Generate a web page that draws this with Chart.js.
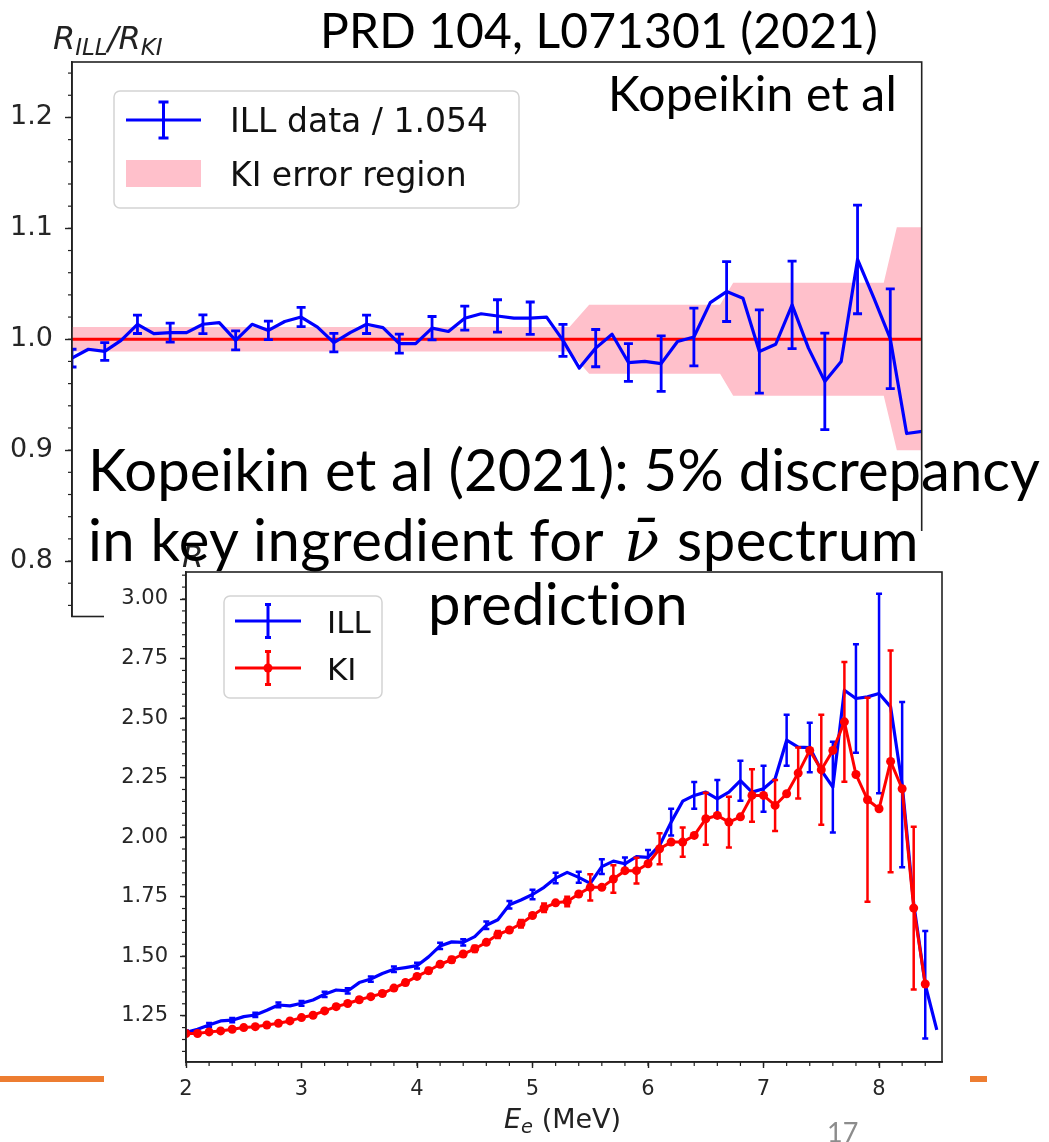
<!DOCTYPE html>
<html>
<head>
<meta charset="utf-8">
<script src="https://cdn.jsdelivr.net/npm/chart.js@4.4.1/dist/chart.umd.min.js"></script>
<style>
  body { margin: 0; background: #fff; }
  #slide { position: relative; width: 1049px; height: 1142px; overflow: hidden; background: #fff; }
  .abs { position: absolute; }
  #topBox { left: 0; top: 0; width: 1049px; height: 680px; }
  #orange { left: 0; top: 1076px; width: 987px; height: 6px; background: #ed7d31; }
  #botBox { left: 104px; top: 531px; width: 866px; height: 611px; background: #fff; }
  .ax { font-family: "DejaVu Sans"; font-style: italic; color: #222; white-space: nowrap; line-height: 1; }
  .ax sub { font-size: 0.72em; vertical-align: -0.25em; }
  .txt { font-family: Lato, sans-serif; color: #000; white-space: nowrap; line-height: 1; font-variant-ligatures: none; }
  .nu { font-family: "DejaVu Serif"; font-style: italic; }
</style>
</head>
<body>
<div id="slide">
  <div id="topBox" class="abs"><canvas id="topChart" width="1049" height="680"></canvas></div>
  <div id="orange" class="abs"></div>
  <div id="botBox" class="abs"><canvas id="botChart" width="866" height="611"></canvas></div>

  <div class="abs ax" style="left:53px; top:22px; font-size:32px;">R<sub>ILL</sub>/R<sub>KI</sub></div>
  <div class="abs ax" style="left:182px; top:541px; font-size:31px;">R</div>
  <div class="abs ax" style="left:504px; top:1105px; font-size:27px;">E<sub>e</sub> <span style="font-style:normal">(MeV)</span></div>

  <div class="abs txt fit" data-w="558" style="left:320px; top:6px; font-size:48px;">PRD 104, L071301 (2021)</div>
  <div class="abs txt fit" data-w="289" style="left:608px; top:69px; font-size:48px;">Kopeikin et al</div>
  <div class="abs txt fit" data-w="952" style="left:88px; top:440px; font-size:58px;">Kopeikin et al (2021): 5% discrepancy</div>
  <div class="abs txt fit" data-w="516" style="left:88px; top:510px; font-size:58px;">in key ingredient for</div>
  <div class="abs txt" style="left:624px; top:510px; font-size:58px;"><span class="nu">ν̄</span></div>
  <div class="abs txt fit" data-w="242" style="left:677px; top:510px; font-size:58px;">spectrum</div>
  <div class="abs txt fit" data-w="260" style="left:428px; top:574px; font-size:58px;">prediction</div>
  <div class="abs txt" style="left:827px; top:1118px; font-size:27px; color:#8c8c8c;">17</div>
</div>

<script>
// ---- top panel: ratio ILL / KI ----
const topE = [2.0, 2.125, 2.25, 2.375, 2.5, 2.625, 2.75, 2.875, 3.0, 3.125, 3.25, 3.375, 3.5, 3.625,
  3.75, 3.875, 4.0, 4.125, 4.25, 4.375, 4.5, 4.625, 4.75, 4.875, 5.0, 5.125, 5.25, 5.375, 5.5, 5.625,
  5.75, 5.875, 6.0, 6.125, 6.25, 6.375, 6.5, 6.625, 6.75, 6.875, 7.0, 7.125, 7.25, 7.375, 7.5, 7.625,
  7.75, 7.875, 8.0, 8.125, 8.25, 8.375, 8.5];
const topRatio = [0.983, 0.991, 0.989, 0.999, 1.0135, 1.005, 1.006, 1.006, 1.0135, 1.015,
  0.999, 1.0135, 1.008, 1.016, 1.020, 1.011, 0.997, 1.006, 1.0135, 1.0105,
  0.996, 0.996, 1.010, 1.007, 1.019, 1.023, 1.021, 1.019, 1.019, 1.020,
  0.999, 0.974, 0.992, 1.0045, 0.979, 0.980, 0.978, 0.998, 1.002, 1.033,
  1.043, 1.037, 0.989, 0.9955, 1.031, 0.992, 0.962, 0.980, 1.072, 1.037,
  1.0005, 0.915, 0.917];
const topErr = [0.008, null, 0.008, null, 0.0083, null, 0.0086, null, 0.0084, null,
  0.0086, null, 0.0083, null, 0.0087, null, 0.0083, null, 0.0083, null,
  0.0086, null, 0.0105, null, 0.0108, null, 0.0146, null, 0.0146, null,
  0.0144, null, 0.0168, null, 0.017, null, 0.025, null, 0.026, null,
  0.027, null, 0.0375, null, 0.0395, null, 0.0435, null, 0.049, null,
  0.045, null, null];
const bandE = [2.0, 5.8, 5.95, 6.95, 7.05, 8.2, 8.3, 8.6];
const bandLo = [0.989, 0.989, 0.969, 0.969, 0.949, 0.949, 0.900, 0.900];
const bandHi = [1.011, 1.011, 1.031, 1.031, 1.051, 1.051, 1.101, 1.101];
const kiLineE = [2.0, 8.6];
const kiLineR = [1.0, 1.0];
const topYTicks = [0.8, 0.9, 1.0, 1.1, 1.2];

// ---- bottom panel: spectra ----
const kiE = [2.0, 2.1, 2.2, 2.3, 2.4, 2.5, 2.6, 2.7, 2.8, 2.9, 3.0, 3.1, 3.2, 3.3, 3.4, 3.5, 3.6, 3.7,
  3.8, 3.9, 4.0, 4.1, 4.2, 4.3, 4.4, 4.5, 4.6, 4.7, 4.8, 4.9, 5.0, 5.1, 5.2, 5.3, 5.4, 5.5, 5.6, 5.7,
  5.8, 5.9, 6.0, 6.1, 6.2, 6.3, 6.4, 6.5, 6.6, 6.7, 6.8, 6.9, 7.0, 7.1, 7.2, 7.3, 7.4, 7.5, 7.6, 7.7,
  7.8, 7.9, 8.0, 8.1, 8.2, 8.3, 8.4];
const kiR = [1.175, 1.175, 1.182, 1.186, 1.193, 1.200, 1.204, 1.211, 1.218, 1.228,
  1.242, 1.252, 1.270, 1.288, 1.301, 1.317, 1.330, 1.343, 1.366, 1.389,
  1.415, 1.439, 1.466, 1.485, 1.509, 1.531, 1.558, 1.591, 1.610, 1.636,
  1.671, 1.703, 1.724, 1.730, 1.761, 1.789, 1.789, 1.824, 1.859, 1.859,
  1.888, 1.951, 1.979, 1.979, 2.007, 2.077, 2.091, 2.063, 2.085, 2.175,
  2.175, 2.133, 2.182, 2.269, 2.364, 2.283, 2.364, 2.484, 2.263, 2.157,
  2.119, 2.318, 2.203, 1.702, 1.383];
const kiErr = [null, 0.005, null, 0.005, null, 0.006, null, 0.006, null, 0.007,
  null, 0.007, null, 0.008, null, 0.008, null, 0.009, null, 0.010,
  null, 0.011, null, 0.012, null, 0.013, null, 0.015, null, 0.016,
  null, 0.018, null, 0.020, null, 0.055, null, 0.058, null, 0.054,
  null, 0.065, null, 0.061, null, 0.109, null, 0.107, null, 0.110,
  null, 0.107, null, 0.107, null, 0.231, null, 0.251, null, 0.428,
  null, 0.466, null, 0.342, null];
const illE = [2.0, 2.1, 2.2, 2.3, 2.4, 2.5, 2.6, 2.7, 2.8, 2.9, 3.0, 3.1, 3.2, 3.3, 3.4, 3.5, 3.6, 3.7,
  3.8, 3.9, 4.0, 4.1, 4.2, 4.3, 4.4, 4.5, 4.6, 4.7, 4.8, 4.9, 5.0, 5.1, 5.2, 5.3, 5.4, 5.5, 5.6, 5.7,
  5.8, 5.9, 6.0, 6.1, 6.2, 6.3, 6.4, 6.5, 6.6, 6.7, 6.8, 6.9, 7.0, 7.1, 7.2, 7.3, 7.4, 7.5, 7.6, 7.7,
  7.8, 7.9, 8.0, 8.1, 8.2, 8.3, 8.4, 8.5];
const illR = [1.180, 1.193, 1.211, 1.228, 1.231, 1.246, 1.253, 1.273, 1.295, 1.291,
  1.302, 1.316, 1.340, 1.358, 1.354, 1.389, 1.404, 1.427, 1.445, 1.452,
  1.460, 1.497, 1.543, 1.560, 1.558, 1.582, 1.630, 1.653, 1.716, 1.736,
  1.759, 1.789, 1.828, 1.852, 1.831, 1.806, 1.876, 1.899, 1.888, 1.918,
  1.915, 1.965, 2.063, 2.151, 2.175, 2.189, 2.161, 2.189, 2.237, 2.189,
  2.203, 2.245, 2.407, 2.378, 2.376, 2.280, 2.210, 2.617, 2.582, 2.589,
  2.603, 2.547, 2.220, 1.720, 1.380, 1.190];
const illErr = [0.008, null, 0.008, null, 0.009, null, 0.009, null, 0.010, null,
  0.010, null, 0.011, null, 0.011, null, 0.011, null, 0.012, null,
  0.012, null, 0.013, null, 0.013, null, 0.016, null, 0.016, null,
  0.020, null, 0.022, null, 0.023, null, 0.031, null, 0.026, null,
  0.031, null, 0.056, null, 0.056, null, 0.079, null, 0.084, null,
  0.097, null, 0.107, null, 0.104, null, 0.191, null, 0.228, null,
  0.419, null, 0.347, null, 0.226, null];
const botXTicks = [2, 3, 4, 5, 6, 7, 8];
const botYTicks = [1.25, 1.5, 1.75, 2.0, 2.25, 2.5, 2.75, 3.0];

const pts = (xs, ys) => xs.map((x, i) => ({ x: x, y: ys[i] }));
const AXIS = "#222";

// stretch slide text lines to the widths they have in the original slide
document.querySelectorAll(".fit").forEach((el) => {
  const w = el.getBoundingClientRect().width;
  el.style.letterSpacing = ((Number(el.dataset.w) - w) / el.textContent.length) + "px";
});

Chart.defaults.font.family = "DejaVu Sans";
Chart.defaults.color = "#262626";

// vertical error bars with caps, drawn right after their own dataset
const errorBars = {
  id: "errorBars",
  afterDatasetDraw(chart, args) {
    const ds = chart.data.datasets[args.index];
    if (!ds.errors) return;
    const ctx = chart.ctx, a = chart.chartArea, ys = chart.scales.y;
    ctx.save();
    ctx.beginPath();
    ctx.rect(a.left, a.top, a.right - a.left, a.bottom - a.top);
    ctx.clip();
    ctx.strokeStyle = ds.borderColor;
    ctx.lineWidth = ds.errWidth;
    args.meta.data.forEach((pt, i) => {
      const e = ds.errors[i];
      if (e == null) return;
      const v = ds.data[i].y;
      const y1 = ys.getPixelForValue(v - e), y2 = ys.getPixelForValue(v + e);
      ctx.beginPath();
      ctx.moveTo(pt.x, y1); ctx.lineTo(pt.x, y2);
      ctx.moveTo(pt.x - ds.errCap, y1); ctx.lineTo(pt.x + ds.errCap, y1);
      ctx.moveTo(pt.x - ds.errCap, y2); ctx.lineTo(pt.x + ds.errCap, y2);
      ctx.stroke();
    });
    ctx.restore();
  }
};

// matplotlib-like frame and minor ticks
const frameTicks = {
  id: "frameTicks",
  afterDraw(chart, args, o) {
    const ctx = chart.ctx, a = chart.chartArea;
    ctx.save();
    ctx.strokeStyle = AXIS;
    ctx.lineWidth = 1.2;
    for (const id of ["x", "y"]) {
      const step = o[id];
      const sc = chart.scales[id];
      if (!step) continue;
      const k0 = Math.ceil(sc.min / step - 1e-9), k1 = Math.floor(sc.max / step + 1e-9);
      for (let k = k0; k <= k1; k++) {
        const p = sc.getPixelForValue(k * step);
        ctx.beginPath();
        if (id === "y") { ctx.moveTo(a.left, p); ctx.lineTo(a.left - o.len, p); }
        else { ctx.moveTo(p, a.bottom); ctx.lineTo(p, a.bottom + o.len); }
        ctx.stroke();
      }
    }
    ctx.lineWidth = 1.6;
    ctx.strokeRect(a.left, a.top, a.right - a.left, a.bottom - a.top);
    ctx.restore();
  }
};

// boxed legend with errorbar / patch handles
const boxLegend = {
  id: "boxLegend",
  afterDraw(chart, args, o) {
    const ctx = chart.ctx, a = chart.chartArea;
    const x = a.left + o.dx, y = a.top + o.dy, r = 6;
    ctx.save();
    ctx.beginPath();
    ctx.roundRect(x, y, o.w, o.h, r);
    ctx.fillStyle = "rgba(255,255,255,0.85)";
    ctx.fill();
    ctx.strokeStyle = "#d3d3d3";
    ctx.lineWidth = 1.5;
    ctx.stroke();
    o.items.forEach((it, i) => {
      const cy = y + o.row0 + i * o.gap;
      const h0 = x + o.hx0, h1 = x + o.hx1, hc = (h0 + h1) / 2;
      if (it.kind === "patch") {
        ctx.fillStyle = it.color;
        ctx.fillRect(h0, cy - o.ph / 2, h1 - h0, o.ph);
      } else {
        ctx.strokeStyle = it.color;
        ctx.lineWidth = o.lw;
        ctx.beginPath();
        ctx.moveTo(h0, cy); ctx.lineTo(h1, cy);
        ctx.moveTo(hc, cy - o.eh); ctx.lineTo(hc, cy + o.eh);
        ctx.moveTo(hc - o.cap, cy - o.eh); ctx.lineTo(hc + o.cap, cy - o.eh);
        ctx.moveTo(hc - o.cap, cy + o.eh); ctx.lineTo(hc + o.cap, cy + o.eh);
        ctx.stroke();
        if (it.dot) {
          ctx.fillStyle = it.color;
          ctx.beginPath(); ctx.arc(hc, cy, it.dot, 0, Math.PI * 2); ctx.fill();
        }
      }
      ctx.fillStyle = "#111";
      ctx.font = o.font;
      ctx.textBaseline = "alphabetic";
      ctx.fillText(it.label, x + o.tx, cy + o.base);
    });
    ctx.restore();
  }
};

new Chart(document.getElementById("topChart"), {
  type: "line",
  data: {
    datasets: [{
      label: "ILL data / 1.054",
      data: pts(topE, topRatio),
      borderColor: "#0000ff",
      borderWidth: 3.2,
      pointRadius: 0,
      errors: topErr, errCap: 4.5, errWidth: 2.8,
    }, {
      label: "KI",
      data: pts(kiLineE, kiLineR),
      borderColor: "#ff0000",
      borderWidth: 3,
      pointRadius: 0,
    }, {
      label: "KI low",
      data: pts(bandE, bandLo),
      borderColor: "rgba(0,0,0,0)",
      borderWidth: 0,
      pointRadius: 0,
      fill: false,
    }, {
      label: "KI error region",
      data: pts(bandE, bandHi),
      borderColor: "rgba(0,0,0,0)",
      borderWidth: 0,
      pointRadius: 0,
      backgroundColor: "#ffc0cb",
      fill: 2,
    }],
  },
  options: {
    responsive: false,
    animation: false,
    events: [],
    layout: { padding: { left: 0, top: 62, right: 127.3, bottom: 63.5 } },
    elements: { line: { tension: 0, borderJoinStyle: "round" } },
    plugins: {
      legend: { display: false },
      tooltip: { enabled: false },
      frameTicks: { y: 0.02, len: 4 },
      boxLegend: {
        dx: 42, dy: 29, w: 405, h: 117, row0: 29, gap: 53.5,
        hx0: 12, hx1: 87, tx: 116, base: 12, lw: 3, eh: 18, cap: 5, ph: 27,
        font: "33px 'DejaVu Sans'",
        items: [
          { kind: "err", color: "#0000ff", label: "ILL data / 1.054" },
          { kind: "patch", color: "#ffc0cb", label: "KI error region" },
        ],
      },
    },
    scales: {
      x: { type: "linear", display: false, min: 2.0, max: 8.49 },
      y: {
        min: 0.75, max: 1.25,
        afterFit: (s) => { s.width = 72; },
        afterBuildTicks: (s) => { s.ticks = topYTicks.map((v) => ({ value: v })); },
        border: { display: true, color: AXIS, width: 1.6 },
        grid: { display: true, drawOnChartArea: false, tickLength: 7, tickColor: AXIS, tickWidth: 1.4 },
        ticks: { padding: 12, font: { size: 27 }, callback: (v) => Number(v).toFixed(1) },
      },
    },
  },
  plugins: [errorBars, frameTicks, boxLegend],
});

new Chart(document.getElementById("botChart"), {
  type: "line",
  data: {
    datasets: [{
      label: "KI",
      data: pts(kiE, kiR),
      borderColor: "#ff0000",
      backgroundColor: "#ff0000",
      borderWidth: 3,
      pointRadius: 4.5,
      pointBorderWidth: 0,
      errors: kiErr, errCap: 3, errWidth: 2.5,
    }, {
      label: "ILL",
      data: pts(illE, illR),
      borderColor: "#0000ff",
      borderWidth: 3.2,
      pointRadius: 0,
      errors: illErr, errCap: 3, errWidth: 2.5,
    }],
  },
  options: {
    responsive: false,
    animation: false,
    events: [],
    layout: { padding: { left: 0, top: 41, right: 28, bottom: 0 } },
    elements: { line: { tension: 0, borderJoinStyle: "round" } },
    plugins: {
      legend: { display: false },
      tooltip: { enabled: false },
      frameTicks: { x: 0.2, y: 0.05, len: 4 },
      boxLegend: {
        dx: 38, dy: 24, w: 158, h: 102, row0: 25, gap: 47,
        hx0: 11, hx1: 77, tx: 103, base: 11.5, lw: 3, eh: 16.5, cap: 3, ph: 20,
        font: "31px 'DejaVu Sans'",
        items: [
          { kind: "err", color: "#0000ff", label: "ILL" },
          { kind: "err", color: "#ff0000", label: "KI", dot: 4.5 },
        ],
      },
    },
    scales: {
      x: {
        type: "linear", min: 2.0, max: 8.545,
        afterFit: (s) => { s.height = 80; },
        afterBuildTicks: (s) => { s.ticks = botXTicks.map((v) => ({ value: v })); },
        border: { display: true, color: AXIS, width: 1.6 },
        grid: { display: true, drawOnChartArea: false, tickLength: 6, tickColor: AXIS, tickWidth: 1.4 },
        ticks: { padding: 9, font: { size: 21 }, maxRotation: 0, callback: (v) => String(v) },
      },
      y: {
        min: 1.0555, max: 3.1134,
        afterFit: (s) => { s.width = 82; },
        afterBuildTicks: (s) => { s.ticks = botYTicks.map((v) => ({ value: v })); },
        border: { display: true, color: AXIS, width: 1.6 },
        grid: { display: true, drawOnChartArea: false, tickLength: 6, tickColor: AXIS, tickWidth: 1.4 },
        ticks: { padding: 12, font: { size: 21 }, callback: (v) => Number(v).toFixed(2) },
      },
    },
  },
  plugins: [errorBars, frameTicks, boxLegend],
});
</script>
</body>
</html>
